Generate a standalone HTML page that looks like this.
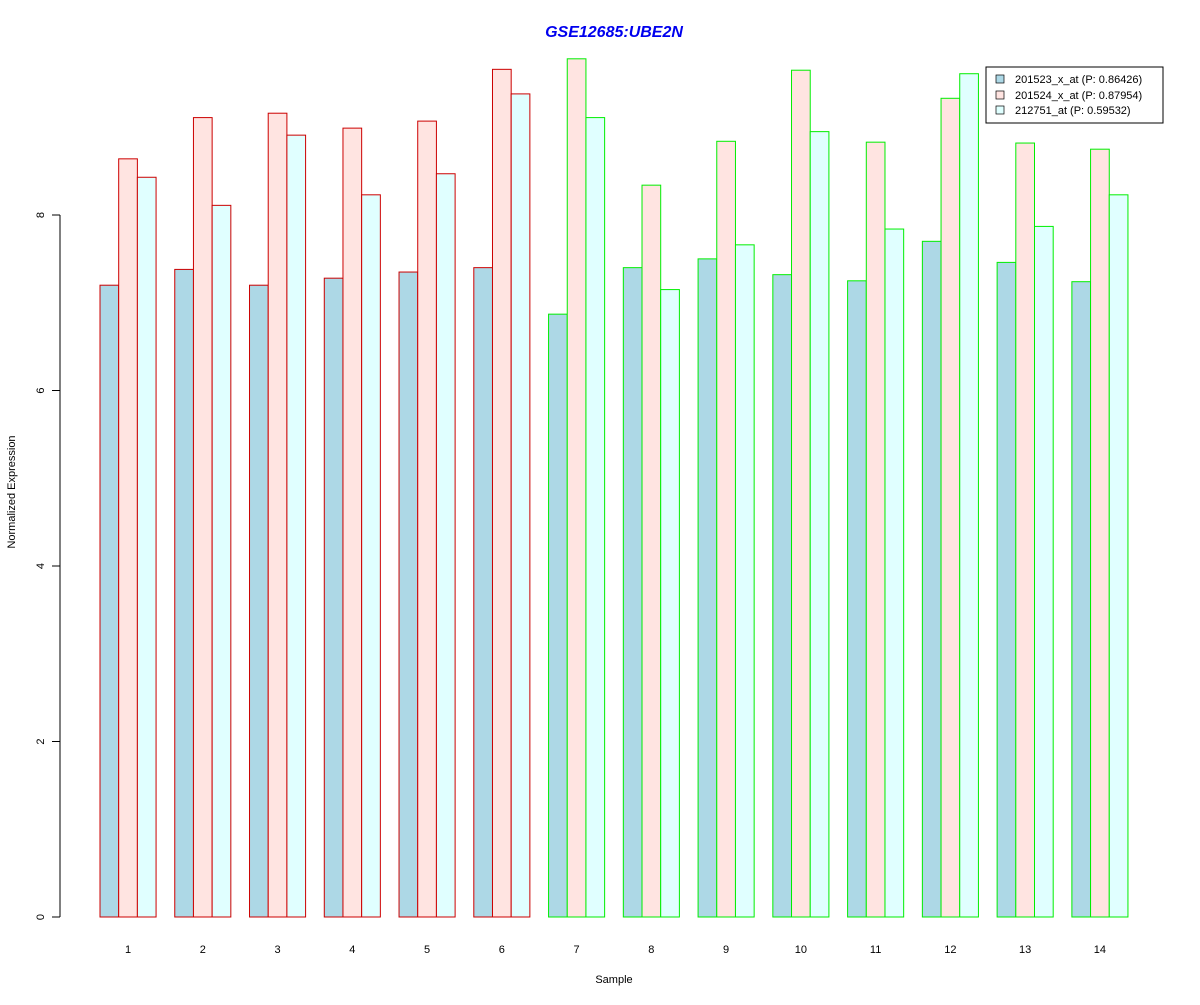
<!DOCTYPE html>
<html><head><meta charset="utf-8"><style>
body{margin:0;background:#fff;}
svg text{font-family:"Liberation Sans",Arial,sans-serif;}
</style></head><body>
<svg id="chart" width="1200" height="1000" xmlns="http://www.w3.org/2000/svg">
<rect width="1200" height="1000" fill="#fff"/>
<text x="614" y="37" text-anchor="middle" font-size="16" font-weight="bold" font-style="italic" fill="#0000ee">GSE12685:UBE2N</text>
<text x="614" y="983" text-anchor="middle" font-size="11">Sample</text>
<text transform="translate(15,492) rotate(-90)" text-anchor="middle" font-size="11">Normalized Expression</text>
<g id="yaxis"></g>
<g id="bars"></g>
<g id="xlabels"></g>
<g>
<rect x="986" y="67" width="177" height="56" fill="#fff" stroke="#000"/>
<rect x="996" y="75" width="8" height="8" fill="#add8e6" stroke="#000" stroke-width="0.7"/>
<text x="1015" y="83" font-size="11">201523_x_at (P: 0.86426)</text>
<rect x="996" y="91" width="8" height="8" fill="#ffe4e1" stroke="#000" stroke-width="0.7"/>
<text x="1015" y="99" font-size="11">201524_x_at (P: 0.87954)</text>
<rect x="996" y="106" width="8" height="8" fill="#e0ffff" stroke="#000" stroke-width="0.7"/>
<text x="1015" y="114" font-size="11">212751_at (P: 0.59532)</text>
</g>
</svg>
<script>
const categories=["1","2","3","4","5","6","7","8","9","10","11","12","13","14"];
const series1=[7.20,7.38,7.20,7.28,7.35,7.40,6.87,7.40,7.50,7.32,7.25,7.70,7.46,7.24];
const series2=[8.64,9.11,9.16,8.99,9.07,9.66,9.78,8.34,8.84,9.65,8.83,9.33,8.82,8.75];
const series3=[8.43,8.11,8.91,8.23,8.47,9.38,9.11,7.15,7.66,8.95,7.84,9.61,7.87,8.23];
const groupType=[0,0,0,0,0,0,1,1,1,1,1,1,1,1];
const yTicks=[0,2,4,6,8];
const NS="http://www.w3.org/2000/svg";
const y0=917, pxPerUnit=87.75, x0=100, unit=18.69;
function yS(v){return y0-v*pxPerUnit;}
function xS(g,k){return x0+(g*4+k)*unit;}
const fills=["#add8e6","#ffe4e1","#e0ffff"];
const strokes=["#cc0000","#00ee00"];
const bars=document.getElementById("bars");
const all=[series1,series2,series3];
categories.forEach((c,g)=>{
  all.forEach((s,k)=>{
    const r=document.createElementNS(NS,"rect");
    
    
    r.setAttribute("x",xS(g,k));r.setAttribute("width",unit);
    r.setAttribute("y",yS(s[g]));r.setAttribute("height",y0-yS(s[g]));
    r.setAttribute("fill",fills[k]);r.setAttribute("stroke",strokes[groupType[g]]);
    bars.appendChild(r);
  });
  const t=document.createElementNS(NS,"text");
  
  
  t.setAttribute("x",xS(g,1.5));t.setAttribute("y",953);
  t.setAttribute("text-anchor","middle");t.setAttribute("font-size","11");
  t.textContent=c;document.getElementById("xlabels").appendChild(t);
});
const ya=document.getElementById("yaxis");
const ln=document.createElementNS(NS,"line");


ln.setAttribute("x1",60);ln.setAttribute("x2",60);
ln.setAttribute("y1",yS(yTicks[0]));ln.setAttribute("y2",yS(yTicks[yTicks.length-1]));
ln.setAttribute("stroke","#000");ya.appendChild(ln);
yTicks.forEach(v=>{
  const tk=document.createElementNS(NS,"line");
  
  
  tk.setAttribute("x1",52);tk.setAttribute("x2",60);
  tk.setAttribute("y1",yS(v));tk.setAttribute("y2",yS(v));
  tk.setAttribute("stroke","#000");ya.appendChild(tk);
  const t=document.createElementNS(NS,"text");
  
  
  t.setAttribute("transform","translate(44,"+yS(v)+") rotate(-90)");
  t.setAttribute("text-anchor","middle");t.setAttribute("font-size","11");
  t.textContent=v;ya.appendChild(t);
});
</script>
</body></html>
